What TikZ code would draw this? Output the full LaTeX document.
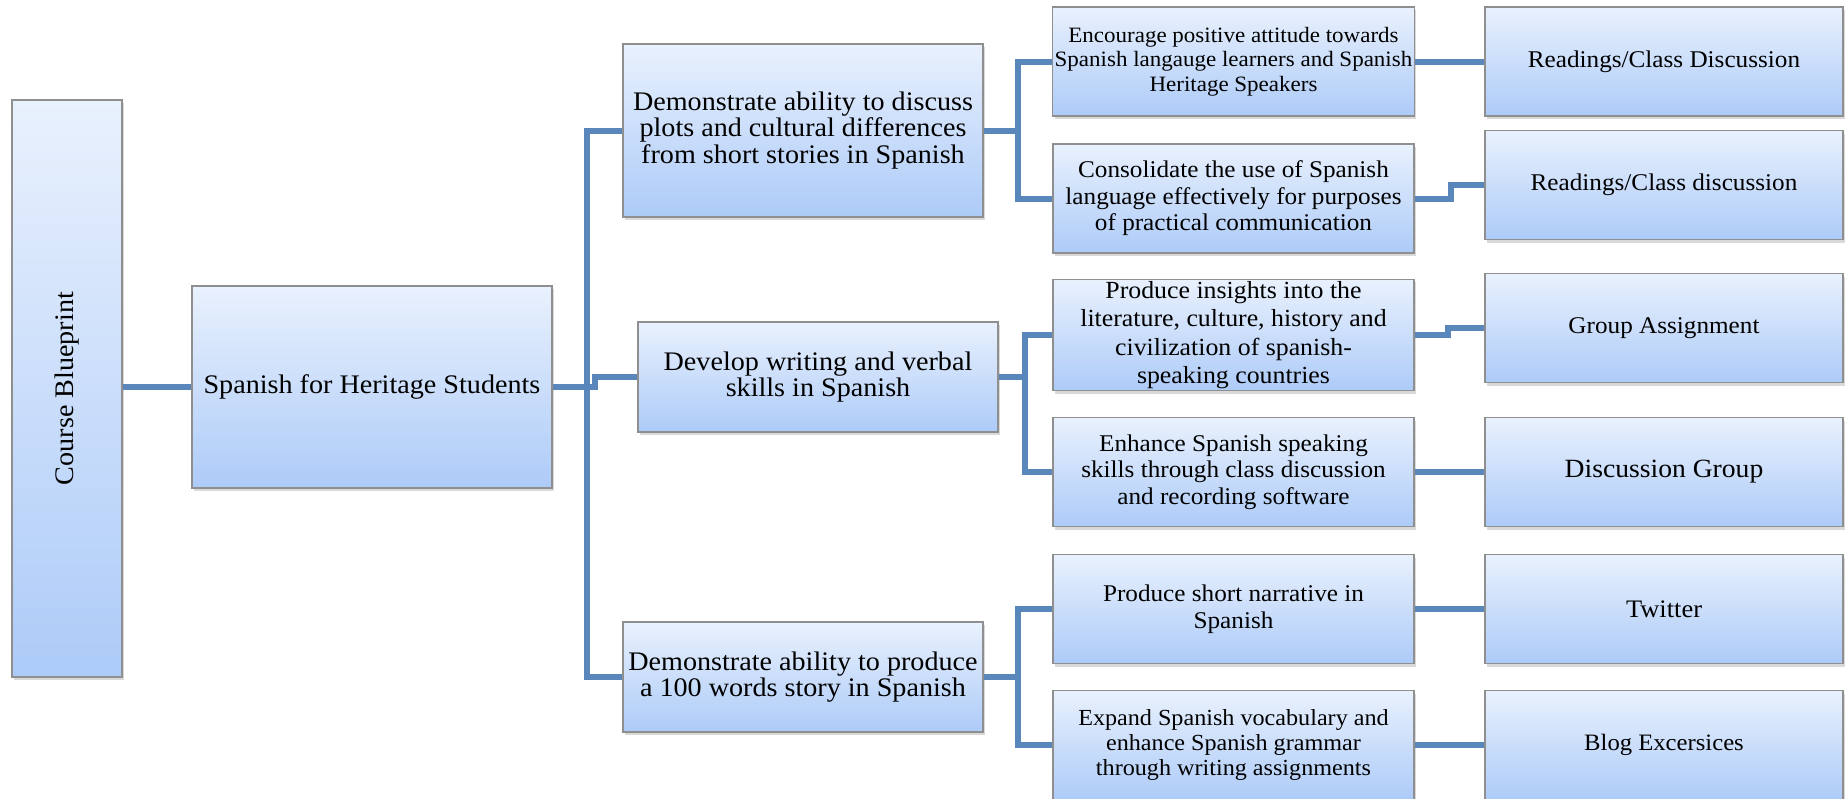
\documentclass[tikz,border=0pt]{standalone}
\usepackage{fontspec}
\setmainfont{Liberation Serif}[FakeStretch=1.05]
\usetikzlibrary{shadows}
\definecolor{boxtop}{HTML}{E9F1FD}
\definecolor{boxbot}{HTML}{ADCBF8}
\definecolor{boxedge}{HTML}{8F8F8F}
\definecolor{linec}{HTML}{5A87BB}
\tikzset{
  box/.style={draw=boxedge, line width=1.5pt, top color=boxtop, bottom color=boxbot,
    drop shadow={shadow xshift=2pt, shadow yshift=-3pt, opacity=0.3},
    align=center, inner sep=2pt, text=black},
  big/.style={font=\fontsize{26.8}{26.7}\selectfont},
  small/.style={font=\fontsize{24}{26.5}\selectfont},
  conn/.style={draw=linec, line width=6pt},
  c1/.style={minimum width=360pt},
  c3/.style={minimum width=361pt, minimum height=109pt},
  c4/.style={minimum width=358pt, minimum height=109pt},
}
\begin{document}
\begin{tikzpicture}[x=1pt,y=-1pt]
\useasboundingbox (0,0) rectangle (1845,798);
% nodes
\node[box,big,minimum width=110pt,minimum height=577pt] (cb) at (67,388.5) {\rotatebox{90}{Course Blueprint}};
\node[box,big,c1,minimum height=202pt] (shs) at (372,387) {Spanish for Heritage Students};
\node[box,big,c1,minimum height=173pt] (a) at (803,130.5) {Demonstrate ability to discuss\\plots and cultural differences\\from short stories in Spanish};
\node[box,big,c1,minimum height=110pt] (b) at (818,377) {Develop writing and verbal\\skills in Spanish};
\node[box,big,c1,minimum height=110pt] (c) at (803,677) {Demonstrate ability to produce\\a 100 words story in Spanish};

\node[box,c3,font=\fontsize{21.9}{24.5}\selectfont] (a1) at (1233.5,61.5) {Encourage positive attitude towards\\Spanish langauge learners and Spanish\\Heritage Speakers};
\node[box,c3,small] (a2) at (1233.5,198.5) {Consolidate the use of Spanish\\language effectively for purposes\\of practical communication};
\node[box,c3,font=\fontsize{24.6}{28.3}\selectfont] (b1) at (1233.5,335) {Produce insights into the\\literature, culture, history and\\civilization of spanish-\\speaking countries};
\node[box,c3,small] (b2) at (1233.5,472) {Enhance Spanish speaking\\skills through class discussion\\and recording software};
\node[box,c3,small] (c1n) at (1233.5,609) {Produce short narrative in\\Spanish};
\node[box,c3,font=\fontsize{23}{25}\selectfont] (c2n) at (1233.5,745) {Expand Spanish vocabulary and\\enhance Spanish grammar\\through writing assignments};

\node[box,c4,small] (a1r) at (1664,61.5) {Readings/Class Discussion};
\node[box,c4,small] (a2r) at (1664,185) {Readings/Class discussion};
\node[box,c4,small] (b1r) at (1664,328) {Group Assignment};
\node[box,c4,font=\fontsize{26.3}{26.5}\selectfont] (b2r) at (1664,472) {Discussion Group};
\node[box,c4,font=\fontsize{25.2}{26.5}\selectfont] (c1r) at (1664,609) {Twitter};
\node[box,c4,font=\fontsize{23.5}{26.5}\selectfont] (c2r) at (1664,745) {Blog Excersices};

% branch coordinates
\coordinate (tr) at (587,387);
\coordinate (ja) at (1018,130.5);
\coordinate (jb) at (1025,377);
\coordinate (jc) at (1018,677);
\coordinate (ka) at (1451,198.5);
\coordinate (kb) at (1448,335);

% connectors
\draw[conn] (cb.east |- shs.west) -- (shs.west);
\draw[conn] (shs.east) -- (tr);
\draw[conn] (a.west) -| (tr |- c.west) -- (c.west);
\draw[conn] (tr) -- ++(8,0) |- (b.west);

\draw[conn] (a.east) -- (ja);
\draw[conn] (a1.west) -| (ja |- a2.west) -- (a2.west);
\draw[conn] (b.east) -- (jb);
\draw[conn] (b1.west) -| (jb |- b2.west) -- (b2.west);
\draw[conn] (c.east) -- (jc);
\draw[conn] (c1n.west) -| (jc |- c2n.west) -- (c2n.west);

\draw[conn] (a1.east) -- (a1r.west);
\draw[conn] (a2.east) -- (ka) |- (a2r.west);
\draw[conn] (b1.east) -- (kb) |- (b1r.west);
\draw[conn] (b2.east) -- (b2r.west);
\draw[conn] (c1n.east) -- (c1r.west);
\draw[conn] (c2n.east) -- (c2r.west);
\end{tikzpicture}
\end{document}
